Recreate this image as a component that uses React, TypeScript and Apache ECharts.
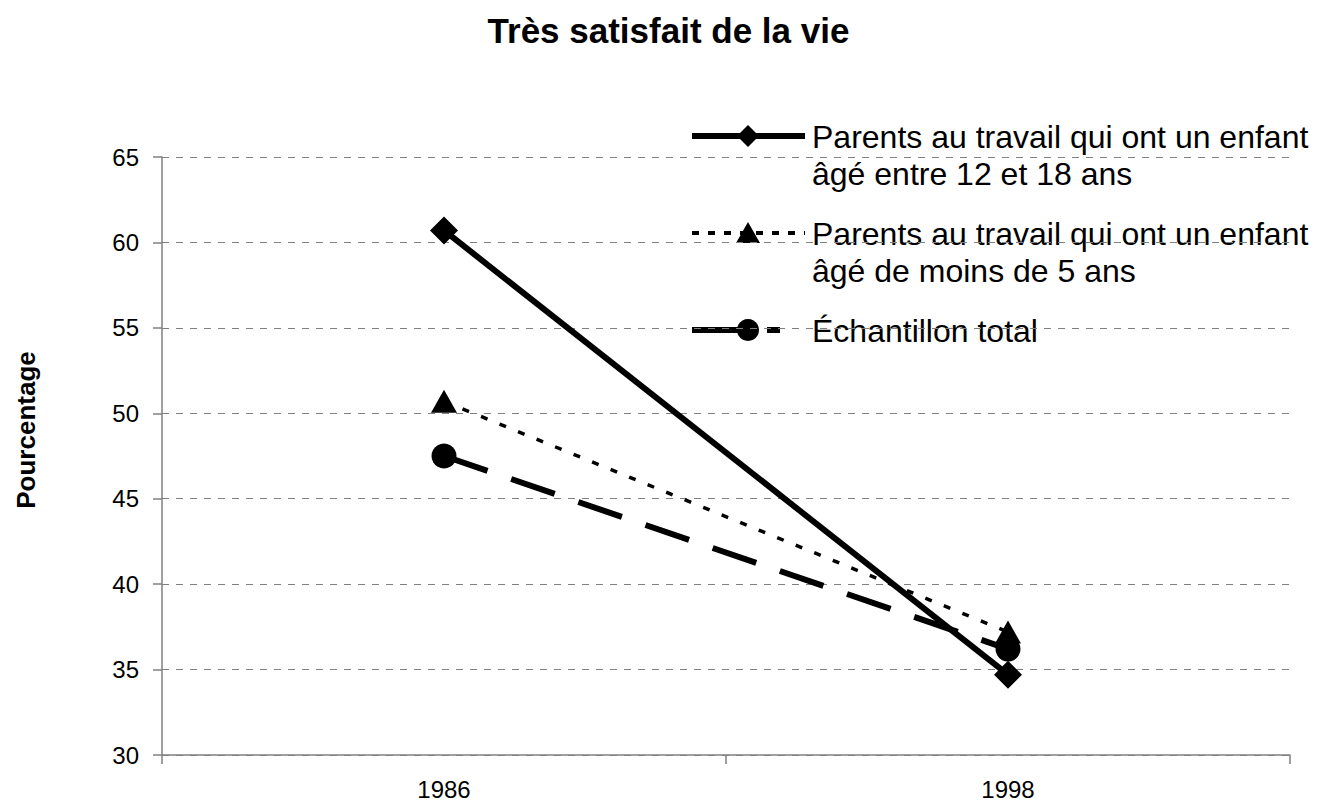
import React, { useEffect, useRef } from "react";
import * as echarts from "echarts";

const categories = ["1986", "1998"];
const seriesNames = [
  "Parents au travail qui ont un enfant\nâgé entre 12 et 18 ans",
  "Parents au travail qui ont un enfant\nâgé de moins de 5 ans",
  "Échantillon total",
];
const teens = [60.7, 34.7];
const underFive = [50.7, 37.2];
const total = [47.5, 36.2];
const yTicks = { min: 30, max: 65, interval: 5 };
const yAxisTitle = "Pourcentage";
const chartTitle = "Très satisfait de la vie";

const FONT = "'Liberation Sans', Arial, sans-serif";

export default function App() {
  const ref = useRef<HTMLDivElement>(null);
  useEffect(() => {
    if (!ref.current) return;
    const chart = echarts.init(ref.current, null, { renderer: "svg" });
    const legendX0 = 692;
    const legendX1 = 805;
    const iconX = 748;
    const textX = 812;
    const rows = [136, 233, 330];
    const lineGap = 37;
    const textStyle = (t: string, y: number) => ({
      type: "text",
      left: textX,
      top: y - 18,
      style: { text: t, font: `32px ${FONT}`, fill: "#000", lineHeight: lineGap },
    });
    chart.setOption({
      animation: false,
      backgroundColor: "#fff",
      title: {
        text: chartTitle,
        left: "center",
        top: 8,
        textStyle: { fontFamily: FONT, fontSize: 35, fontWeight: "bold", color: "#000" },
      },
      grid: { left: 162, right: 47, top: 157, bottom: 48, containLabel: false },
      xAxis: {
        type: "category",
        data: categories,
        boundaryGap: true,
        axisLine: { lineStyle: { color: "#808080", width: 1.5 } },
        axisTick: { show: true, length: 9, lineStyle: { color: "#808080", width: 1.5 } },
        axisLabel: { fontFamily: FONT, fontSize: 24, color: "#000", margin: 22 },
      },
      yAxis: {
        type: "value",
        min: yTicks.min,
        max: yTicks.max,
        interval: yTicks.interval,
        axisLine: { show: true, lineStyle: { color: "#808080", width: 1.5 } },
        axisTick: { show: true, length: 9, lineStyle: { color: "#808080", width: 1.5 } },
        axisLabel: { fontFamily: FONT, fontSize: 24, color: "#000", margin: 23 },
        splitLine: { show: true, lineStyle: { color: "#808080", width: 1, type: [7, 7] } },
      },
      series: [
        {
          name: seriesNames[0],
          type: "line",
          data: teens,
          symbol: "diamond",
          symbolSize: [28, 28],
          lineStyle: { color: "#000", width: 6, type: "solid" },
          itemStyle: { color: "#000" },
          z: 3,
        },
        {
          name: seriesNames[1],
          type: "line",
          data: underFive,
          symbol: "triangle",
          symbolSize: [26, 23],
          lineStyle: { color: "#000", width: 3.5, type: [7, 13] },
          itemStyle: { color: "#000" },
          z: 2,
        },
        {
          name: seriesNames[2],
          type: "line",
          data: total,
          symbol: "circle",
          symbolSize: 25,
          lineStyle: { color: "#000", width: 6, type: [46, 25] },
          itemStyle: { color: "#000" },
          z: 2,
        },
      ],
      graphic: [
        {
          type: "text",
          x: 26,
          y: 430,
          rotation: Math.PI / 2,
          style: {
            text: yAxisTitle,
            font: `bold 26px ${FONT}`,
            fill: "#000",
            align: "center",
            verticalAlign: "middle",
          },
        },
        {
          type: "line",
          shape: { x1: legendX0, y1: rows[0], x2: legendX1, y2: rows[0] },
          style: { stroke: "#000", lineWidth: 6 },
        },
        {
          type: "polygon",
          shape: {
            points: [
              [iconX, rows[0] - 11],
              [iconX + 11, rows[0]],
              [iconX, rows[0] + 11],
              [iconX - 11, rows[0]],
            ],
          },
          style: { fill: "#000" },
        },
        textStyle(seriesNames[0], rows[0]),
        {
          type: "line",
          shape: { x1: legendX0, y1: rows[1], x2: legendX1, y2: rows[1] },
          style: { stroke: "#000", lineWidth: 4, lineDash: [7, 9] },
        },
        {
          type: "polygon",
          shape: {
            points: [
              [iconX, rows[1] - 11],
              [iconX + 12, rows[1] + 10],
              [iconX - 12, rows[1] + 10],
            ],
          },
          style: { fill: "#000" },
        },
        textStyle(seriesNames[1], rows[1]),
        {
          type: "line",
          shape: { x1: legendX0, y1: rows[2], x2: 740, y2: rows[2] },
          style: { stroke: "#000", lineWidth: 6 },
        },
        {
          type: "line",
          shape: { x1: 767, y1: rows[2], x2: 780, y2: rows[2] },
          style: { stroke: "#000", lineWidth: 6 },
        },
        {
          type: "circle",
          shape: { cx: iconX, cy: rows[2], r: 11 },
          style: { fill: "#000" },
        },
        textStyle(seriesNames[2], rows[2]),
      ],
    });
    return () => chart.dispose();
  }, []);
  return (
    <div
      ref={ref}
      style={{ position: "fixed", left: 0, top: 0, width: 1337, height: 803 }}
    />
  );
}
